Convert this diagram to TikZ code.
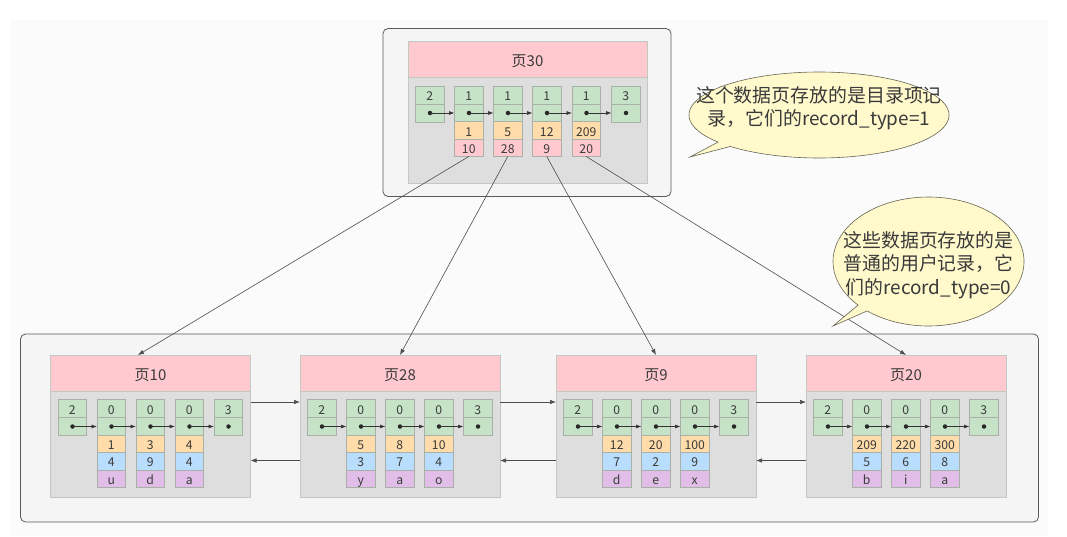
\documentclass[tikz,border=0pt]{standalone}
\usepackage{fontspec}
\setmainfont{Noto Sans CJK SC}
\usetikzlibrary{arrows.meta}
\definecolor{txt}{HTML}{3A3A3A}
\definecolor{pinkc}{HTML}{FFC9CF}
\definecolor{pagec}{HTML}{DEDEDE}
\definecolor{greenc}{HTML}{C6E3C8}
\definecolor{orangec}{HTML}{FFDCA9}
\definecolor{bluec}{HTML}{B9DDFC}
\definecolor{purplec}{HTML}{E0BEE8}
\definecolor{linec}{HTML}{A8B0A8}
\definecolor{outerc}{HTML}{F5F5F5}
\definecolor{bgc}{HTML}{FBFBFB}
\definecolor{noteC}{HTML}{FFF9CC}
\tikzset{
  x=1pt,y=-1pt,
  outerbox/.style={draw=black!65,fill=outerc,rounded corners=5pt,line width=.8pt},
  pagebody/.style={draw=linec!70,fill=pagec,line width=.6pt,anchor=north west,inner sep=0pt,outer sep=0pt},
  pagehead/.style={draw=linec!70,fill=pinkc,line width=.6pt,anchor=north west,inner sep=0pt,outer sep=0pt,text=txt,font=\fontsize{15}{16}\selectfont,text height=14pt,text depth=0pt},
  cellbox/.style={draw=linec,line width=.6pt,anchor=north west,inner sep=0pt,outer sep=0pt,text=txt,font=\fontsize{12.2}{14}\selectfont,minimum width=28.5pt,text height=11pt,text depth=0pt},
  ptrline/.style={draw=black!80,line width=.6pt,-{Latex[length=5.5pt,width=4pt]}},
  link/.style={draw=black!70,line width=.6pt,-{Latex[length=6pt,width=4.5pt]}},
  pdot/.style={circle,fill=black!85,inner sep=0pt,minimum size=4.5pt},
  notebody/.style={draw=black!60!noteC,fill=noteC,line width=.6pt},
  notetext/.style={align=center,text=txt,font=\fontsize{18.9}{23.5}\selectfont,inner sep=0pt},
}
\newcommand{\greencell}[5]{% page, col, x, y, top value
  \node[cellbox,fill=greenc,minimum height=18pt] (#1t#2) at (#3,#4) {#5};
  \node[cellbox,fill=greenc,minimum height=18pt] (#1b#2) at (#3,#4+18) {};
  \node[pdot] (#1d#2) at (#3+14.5,#4+27) {};
}
\newcommand{\valcell}[6]{% name, colour, x, y, h, text
  \node[cellbox,fill=#2,minimum height=#5pt] (#1) at (#3,#4) {#6};
}
\newcommand{\lowerpage}[3]{% id, x, title
  \node[pagebody,minimum width=200pt,minimum height=106.5pt] (#1body) at (#2,391) {};
  \node[pagehead,minimum width=200pt,minimum height=36pt] (#1head) at (#2,355) {#3};
  \greencell{#1}{1}{#2+7.5}{399.5}{2}
  \greencell{#1}{2}{#2+46.5}{399.5}{0}
  \greencell{#1}{3}{#2+85.5}{399.5}{0}
  \greencell{#1}{4}{#2+124.5}{399.5}{0}
  \greencell{#1}{5}{#2+163.5}{399.5}{3}
  \foreach \i/\j in {1/2,2/3,3/4,4/5}{\draw[ptrline] (#1d\i.center) -- (#1d\i.center -| #1b\j.west);}
}
\newcommand{\lowerrows}[3]{% id, x, list col/offset/a/b/c
  \foreach \c/\xo/\a/\b/\e in {#3}{
    \valcell{#1o\c}{orangec}{#2+\xo}{435.5}{17}{\a}
    \valcell{#1u\c}{bluec}{#2+\xo}{452.5}{17.5}{\b}
    \valcell{#1v\c}{purplec}{#2+\xo}{470}{17.5}{\e}
  }
}
\begin{document}
\begin{tikzpicture}
\useasboundingbox (0,0) rectangle (1067,536);
\fill[bgc] (10,20) rectangle (1048,536);

% outer boxes
\draw[outerbox] (383,28.5) rectangle (671,196.5);
\draw[outerbox] (20.5,334) rectangle (1038.5,522);

% top page
\node[pagebody,minimum width=239pt,minimum height=106.5pt] (topbody) at (408,77) {};
\node[pagehead,minimum width=239pt,minimum height=36pt] (tophead) at (408,41.5) {页30};
\greencell{t}{1}{415.5}{86}{2}
\greencell{t}{2}{454.5}{86}{1}
\greencell{t}{3}{493.5}{86}{1}
\greencell{t}{4}{532.5}{86}{1}
\greencell{t}{5}{572}{86}{1}
\greencell{t}{6}{611.5}{86}{3}
\foreach \i/\j in {1/2,2/3,3/4,4/5,5/6}{\draw[ptrline] (td\i.center) -- (td\i.center -| tb\j.west);}
\foreach \c/\xx/\a/\b in {2/454.5/1/10,3/493.5/5/28,4/532.5/12/9,5/572/209/20}{
  \valcell{to\c}{orangec}{\xx}{121.5}{18}{\a}
  \valcell{tp\c}{pinkc}{\xx}{139.5}{17}{\b}
}

% lower pages
\lowerpage{a}{50.5}{页10}
\lowerrows{a}{50.5}{2/46.5/1/4/u,3/85.5/3/9/d,4/124.5/4/4/a}
\lowerpage{b}{300}{页28}
\lowerrows{b}{300}{2/46.5/5/3/y,3/85.5/8/7/a,4/124.5/10/4/o}
\lowerpage{c}{556}{页9}
\lowerrows{c}{556}{2/46.5/12/7/d,3/85.5/20/2/e,4/124.5/100/9/x}
\lowerpage{d}{806}{页20}
\lowerrows{d}{806}{2/46.5/209/5/b,3/85.5/220/6/i,4/124.5/300/8/a}

% links between pages
\foreach \p/\q in {a/b,b/c,c/d}{
  \draw[link] ([yshift=-11pt]\p body.north east) -- ([yshift=-11pt]\q body.north west);
  \draw[link] ([yshift=-69.5pt]\q body.north west) -- ([yshift=-69.5pt]\p body.north east);
}

% links from the directory page
\draw[link] (tp2.south) -- ([xshift=-12.5pt]ahead.north);
\draw[link] (tp3.south) -- (bhead.north);
\draw[link] (tp4.south) -- (chead.north);
\draw[link] (tp5.south) -- (dhead.north);

% callouts
\draw[notebody] plot[domain=141:493,samples=140] ({819+130*cos(\x)},{115+43*sin(\x)}) -- (690,157) -- cycle;
\node[notetext] (note1) at (819,108) {这个数据页存放的是目录项记\\录，它们的record\_type=1};
\draw[notebody] plot[domain=137.5:490,samples=140] ({928.5+95.5*cos(\x)},{261.5+64.5*sin(\x)}) -- (833,326) -- cycle;
\node[notetext] (note2) at (928.5,265) {这些数据页存放的是\\普通的用户记录，它\\们的record\_type=0};
\end{tikzpicture}
\end{document}
